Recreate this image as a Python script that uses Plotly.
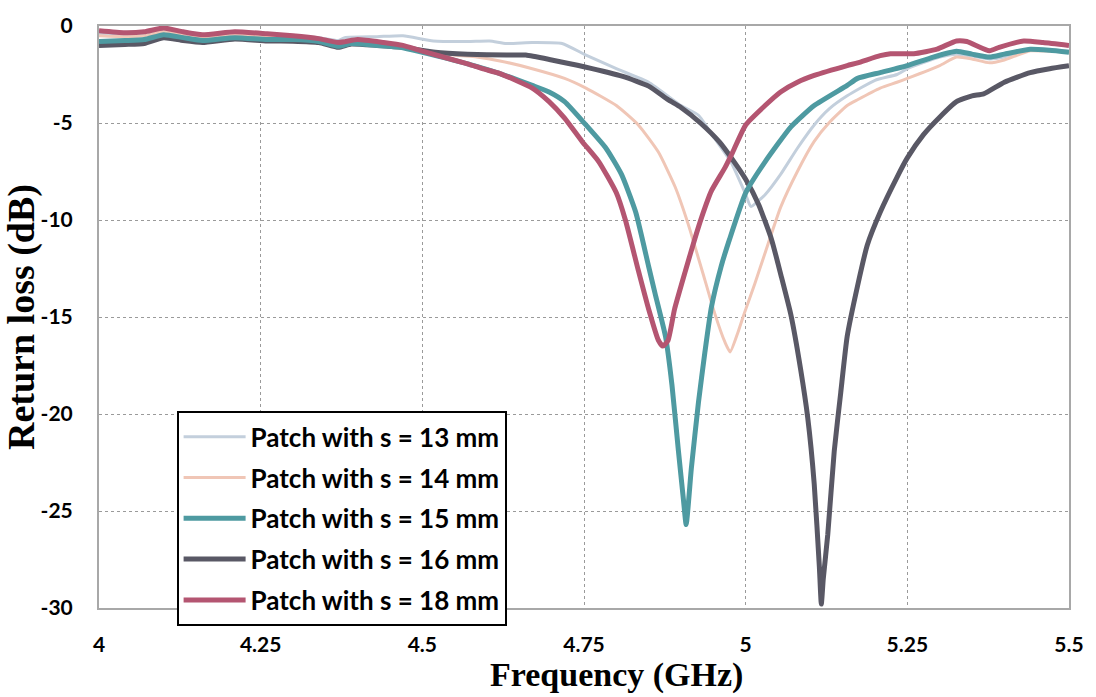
import plotly.graph_objects as go

# ---- data ----
f_13 = [4.00, 4.04, 4.07, 4.10, 4.13, 4.16, 4.21, 4.26, 4.30, 4.34, 4.37, 4.38, 4.43, 4.47, 4.517, 4.57, 4.604, 4.63, 4.67, 4.716, 4.753, 4.80, 4.85, 4.90, 4.927, 4.952, 4.977, 4.999, 5.008, 5.02, 5.03, 5.054, 5.08, 5.106, 5.13, 5.157, 5.20, 5.234, 5.25, 5.30, 5.326, 5.35, 5.377, 5.40, 5.44, 5.47, 5.50]
rl_13 = [-0.4, -0.45, -0.4, -0.2, -0.35, -0.5, -0.35, -0.45, -0.5, -0.6, -0.75, -0.6, -0.55, -0.5, -0.77, -0.8, -0.77, -0.9, -0.85, -0.9, -1.5, -2.2, -2.9, -4.1, -4.6, -5.8, -7.0, -8.6, -9.3, -9.0, -8.7, -7.65, -6.3, -5.1, -4.25, -3.6, -2.8, -2.5, -2.2, -1.6, -1.45, -1.55, -1.7, -1.6, -1.2, -1.25, -1.3]

f_14 = [4.00, 4.04, 4.07, 4.10, 4.13, 4.16, 4.21, 4.26, 4.30, 4.34, 4.37, 4.40, 4.44, 4.47, 4.50, 4.55, 4.584, 4.62, 4.67, 4.72, 4.753, 4.80, 4.834, 4.865, 4.891, 4.911, 4.937, 4.952, 4.968, 4.976, 4.988, 4.998, 5.014, 5.03, 5.054, 5.08, 5.106, 5.13, 5.157, 5.173, 5.208, 5.234, 5.25, 5.30, 5.326, 5.35, 5.377, 5.40, 5.44, 5.47, 5.50]
rl_14 = [-0.5, -0.55, -0.5, -0.3, -0.45, -0.6, -0.45, -0.55, -0.6, -0.7, -0.95, -0.8, -0.95, -1.05, -1.25, -1.5, -1.6, -1.8, -2.2, -2.7, -3.2, -4.1, -5.1, -6.5, -8.3, -10.2, -13.1, -14.8, -16.3, -16.8, -15.8, -14.8, -13.3, -11.7, -9.35, -7.5, -5.95, -4.95, -4.1, -3.8, -3.2, -2.9, -2.7, -2.04, -1.6, -1.7, -1.9, -1.75, -1.28, -1.3, -1.35]

f_15 = [4.00, 4.04, 4.07, 4.10, 4.13, 4.16, 4.21, 4.26, 4.30, 4.34, 4.37, 4.39, 4.43, 4.466, 4.50, 4.57, 4.62, 4.67, 4.696, 4.72, 4.753, 4.784, 4.808, 4.83, 4.85, 4.86, 4.876, 4.886, 4.896, 4.904, 4.908, 4.916, 4.927, 4.937, 4.947, 4.962, 4.975, 5.00, 5.03, 5.07, 5.106, 5.157, 5.173, 5.208, 5.25, 5.29, 5.326, 5.35, 5.377, 5.40, 5.44, 5.47, 5.50]
rl_15 = [-0.8, -0.75, -0.7, -0.45, -0.6, -0.75, -0.6, -0.7, -0.7, -0.8, -1.05, -0.9, -1.0, -1.1, -1.36, -1.95, -2.45, -3.06, -3.4, -3.9, -5.1, -6.3, -7.65, -9.6, -12.4, -13.8, -16.0, -18.5, -21.9, -24.5, -25.7, -22.8, -19.4, -16.8, -14.5, -12.4, -11.0, -8.6, -7.0, -5.2, -4.1, -3.06, -2.7, -2.4, -2.04, -1.6, -1.3, -1.45, -1.6, -1.45, -1.2, -1.25, -1.35]

f_16 = [4.00, 4.04, 4.07, 4.10, 4.13, 4.16, 4.21, 4.26, 4.30, 4.34, 4.37, 4.39, 4.43, 4.47, 4.52, 4.57, 4.63, 4.66, 4.70, 4.75, 4.81, 4.85, 4.88, 4.90, 4.93, 4.96, 4.98, 5.00, 5.02, 5.04, 5.055, 5.07, 5.085, 5.096, 5.106, 5.114, 5.117, 5.12, 5.127, 5.137, 5.147, 5.157, 5.173, 5.188, 5.208, 5.234, 5.25, 5.275, 5.30, 5.326, 5.35, 5.368, 5.40, 5.44, 5.47, 5.50]
rl_16 = [-1.0, -0.95, -0.9, -0.6, -0.75, -0.85, -0.67, -0.77, -0.78, -0.85, -1.1, -0.93, -1.0, -1.1, -1.35, -1.45, -1.5, -1.5, -1.75, -2.1, -2.6, -3.1, -3.8, -4.2, -5.0, -6.0, -6.9, -7.9, -9.2, -11.0, -12.9, -14.9, -17.7, -20.2, -23.6, -27.9, -29.8, -28.5, -26.2, -21.9, -18.9, -16.0, -13.4, -11.3, -9.6, -7.8, -6.8, -5.6, -4.7, -3.9, -3.6, -3.5, -2.9, -2.4, -2.2, -2.05]

f_18 = [4.00, 4.04, 4.07, 4.10, 4.13, 4.16, 4.21, 4.26, 4.30, 4.34, 4.37, 4.40, 4.44, 4.47, 4.50, 4.57, 4.593, 4.62, 4.67, 4.696, 4.72, 4.747, 4.773, 4.80, 4.814, 4.834, 4.85, 4.865, 4.872, 4.88, 4.89, 4.907, 4.922, 4.932, 4.947, 4.968, 4.98, 5.00, 5.03, 5.054, 5.08, 5.106, 5.157, 5.173, 5.208, 5.224, 5.26, 5.296, 5.326, 5.342, 5.377, 5.392, 5.43, 5.46, 5.50]
rl_18 = [-0.25, -0.35, -0.3, -0.1, -0.3, -0.45, -0.3, -0.4, -0.5, -0.65, -0.85, -0.7, -0.85, -1.0, -1.3, -1.95, -2.2, -2.45, -3.2, -3.9, -4.75, -5.95, -7.0, -8.6, -10.0, -12.6, -14.6, -16.2, -16.5, -16.2, -14.6, -12.6, -10.9, -9.85, -8.5, -7.3, -6.5, -5.1, -4.1, -3.4, -2.9, -2.55, -2.04, -1.9, -1.53, -1.43, -1.43, -1.19, -0.77, -0.8, -1.28, -1.1, -0.77, -0.85, -1.0]

series_names = ["Patch with s = 13 mm", "Patch with s = 14 mm", "Patch with s = 15 mm",
                "Patch with s = 16 mm", "Patch with s = 18 mm"]
x_ticks = [4, 4.25, 4.5, 4.75, 5, 5.25, 5.5]
x_tick_labels = ["4", "4.25", "4.5", "4.75", "5", "5.25", "5.5"]
y_ticks = [0, -5, -10, -15, -20, -25, -30]
y_tick_labels = ["0", "-5", "-10", "-15", "-20", "-25", "-30"]
x_title = "Frequency (GHz)"
y_title = "Return loss (dB)"

freqs = [f_13, f_14, f_15, f_16, f_18]
vals = [rl_13, rl_14, rl_15, rl_16, rl_18]
colors = ["#c3cfdc", "#f0c6b6", "#4e9aa1", "#595865", "#b45571"]
widths = [3, 3, 5, 5, 5]

fig = go.Figure()
order = [0, 1, 3, 2, 4]
for i in order:
    fig.add_trace(go.Scatter(
        x=freqs[i], y=vals[i], mode="lines", name=series_names[i],
        line=dict(color=colors[i], width=widths[i], shape="spline", smoothing=0.5),
        legendgroup=str(i), legendrank=i + 1,
    ))

tick_font = dict(family="Lato, Carlito, Calibri, sans-serif", size=21, color="black", weight="bold")
xtitle_font = dict(family="Liberation Serif, Cambria, serif", size=34, color="black", weight="bold")
ytitle_font = dict(family="Liberation Serif, Cambria, serif", size=38, color="black", weight="bold")

fig.add_annotation(
    text=x_title, xref="paper", yref="paper", x=0.533, y=-0.079,
    xanchor="center", yanchor="top", showarrow=False, font=xtitle_font,
)

fig.update_layout(
    width=1096, height=697,
    margin=dict(l=97, r=23, t=20, b=89),
    paper_bgcolor="white", plot_bgcolor="white",
    showlegend=True,
    legend=dict(
        x=0.08, y=0.338, xanchor="left", yanchor="top",
        bgcolor="white", bordercolor="black", borderwidth=2,
        font=dict(family="Lato, Carlito, Calibri, sans-serif", size=26, color="black", weight="bold"),
        traceorder="grouped", tracegroupgap=4, itemwidth=62,
    ),
    xaxis=dict(
        range=[4, 5.5], tickvals=x_ticks, ticktext=x_tick_labels,
        showgrid=True, gridcolor="#9a9a9a", griddash="dot", gridwidth=1,
        showline=True, linecolor="#a8a8a8", linewidth=2, mirror=True,
        ticks="", ticklabelstandoff=17, tickfont=tick_font,
        zeroline=False,
    ),
    yaxis=dict(
        range=[-30, 0], tickvals=y_ticks, ticktext=y_tick_labels,
        showgrid=True, gridcolor="#9a9a9a", griddash="dot", gridwidth=1,
        showline=True, linecolor="#a8a8a8", linewidth=2, mirror=True,
        ticks="", ticklabelstandoff=20, tickfont=tick_font,
        zeroline=False,
        title=dict(text=y_title, font=ytitle_font, standoff=2),
    ),
)

fig.write_html("out.html")
